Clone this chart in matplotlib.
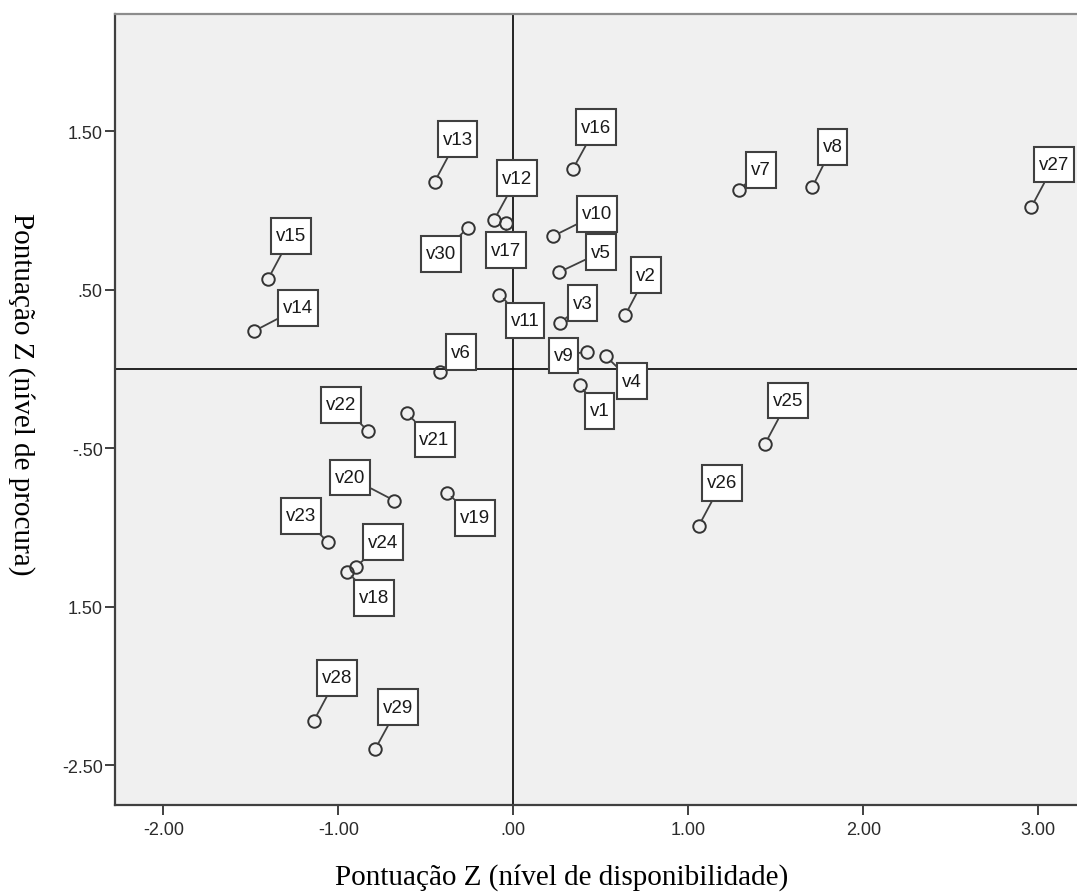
#!/usr/bin/env python3

"""
Scatter of Z scores (availability vs demand) for the 30 variables,
SPSS style: grey plot area, open circles, boxed labels with leader
lines and reference lines through the origin.
"""

import matplotlib
matplotlib.use("Agg")
import matplotlib.pyplot as plt
from matplotlib.path import Path

names = ["v%d" % i for i in range(1, 31)]

# Pontuacao Z (nivel de disponibilidade), v1..v30
disponibilidade = [0.38, 0.64, 0.27, 0.53, 0.26, -0.42, 1.29, 1.71, 0.42, 0.23,
                   -0.08, -0.11, -0.45, -1.48, -1.40, 0.34, -0.04, -0.95, -0.38, -0.68,
                   -0.61, -0.83, -1.06, -0.90, 1.44, 1.06, 2.96, -1.14, -0.79, -0.26]

# Pontuacao Z (nivel de procura), v1..v30
procura = [-0.10, 0.34, 0.29, 0.08, 0.61, -0.02, 1.13, 1.15, 0.11, 0.84,
           0.47, 0.94, 1.18, 0.24, 0.57, 1.26, 0.92, -1.28, -0.78, -0.83,
           -0.28, -0.39, -1.09, -1.25, -0.47, -0.99, 1.02, -2.22, -2.40, 0.89]

xticks = [-2.0, -1.0, 0.0, 1.0, 2.0, 3.0]
xtick_labels = ["-2.00", "-1.00", ".00", "1.00", "2.00", "3.00"]
yticks = [-2.5, -1.5, -0.5, 0.5, 1.5]
ytick_labels = ["-2.50", "1.50", "-.50", ".50", "1.50"]  # as printed in the original

# where each label box sits relative to its point (pixels, right / up)
label_offsets = [(20, -26), (21, 40), (22, 20), (26, -25), (42, 20), (21, 20),
                 (22, 20), (20, 40), (-23, -4), (44, 22), (26, -26), (23, 42),
                 (23, 43), (44, 23), (23, 43), (23, 42), (0, -27), (27, -26),
                 (28, -25), (-44, 23), (28, -26), (-27, 26), (-27, 26), (27, 25),
                 (23, 43), (23, 43), (23, 43), (23, 43), (23, 42), (-27, -26)]

DARK = "#404040"


def label_box(x0, y0, width, height, mutation_size):
    """Rectangle with more room above/below the text than at the sides"""
    px = 0.26 * mutation_size
    py = 0.50 * mutation_size
    x0, x1 = x0 - px, x0 + width + px
    y0, y1 = y0 - py, y0 + height + py
    return Path([(x0, y0), (x1, y0), (x1, y1), (x0, y1), (x0, y0)], closed=True)


fig = plt.figure(figsize=(10.77, 8.95), dpi=100)
fig.patch.set_facecolor("white")
ax = fig.add_axes([0.1071, 0.0998, 0.8947, 0.8834])
ax.set_facecolor("#f0f0f0")

ax.set_xlim(-2.274, 3.233)
ax.set_ylim(-2.749, 2.240)

# reference lines through the origin
ax.axhline(0, color="black", lw=1.2, zorder=1)
ax.axvline(0, color="black", lw=1.2, zorder=1)

ax.plot(disponibilidade, procura, "o", ms=9, mfc="none", mec="#333333",
        mew=1.4, zorder=3, ls="none")

for name, x, y, (dx, dy) in zip(names, disponibilidade, procura, label_offsets):
    ax.annotate(name, xy=(x, y), xytext=(dx, dy), textcoords="offset pixels",
                ha="center", va="center", fontsize=13.5,
                family="Liberation Sans", color="#1a1a1a", zorder=4,
                bbox=dict(boxstyle=label_box, fc="white", ec=DARK, lw=1.5),
                arrowprops=dict(arrowstyle="-", color=DARK, lw=1.3,
                                shrinkA=0, shrinkB=4.5))

ax.set_xticks(xticks)
ax.set_xticklabels(xtick_labels)
ax.set_yticks(yticks)
ax.set_yticklabels(ytick_labels)
ax.tick_params(direction="out", length=7, width=1.4, color=DARK,
               labelsize=13, labelcolor="#2b2b2b")
ax.tick_params(axis="x", pad=5)
ax.tick_params(axis="y", pad=2)
for lab in ax.get_xticklabels() + ax.get_yticklabels():
    lab.set_family("Liberation Sans")

for side in ("left", "bottom"):
    ax.spines[side].set_color(DARK)
    ax.spines[side].set_linewidth(1.6)
ax.spines["top"].set_color("#8c8c8c")
ax.spines["top"].set_linewidth(1.6)
ax.spines["right"].set_visible(False)

fig.text(562 / 1077, 1 - 878 / 895, "Pontuação Z (nível de disponibilidade)",
         ha="center", va="center", fontsize=21, family="Liberation Serif")
fig.text(21 / 1077, 1 - 394 / 895, "Pontuação Z (nível de procura)",
         ha="center", va="center", rotation=270, fontsize=21,
         family="Liberation Serif")

fig.savefig("out.png", dpi=100)
